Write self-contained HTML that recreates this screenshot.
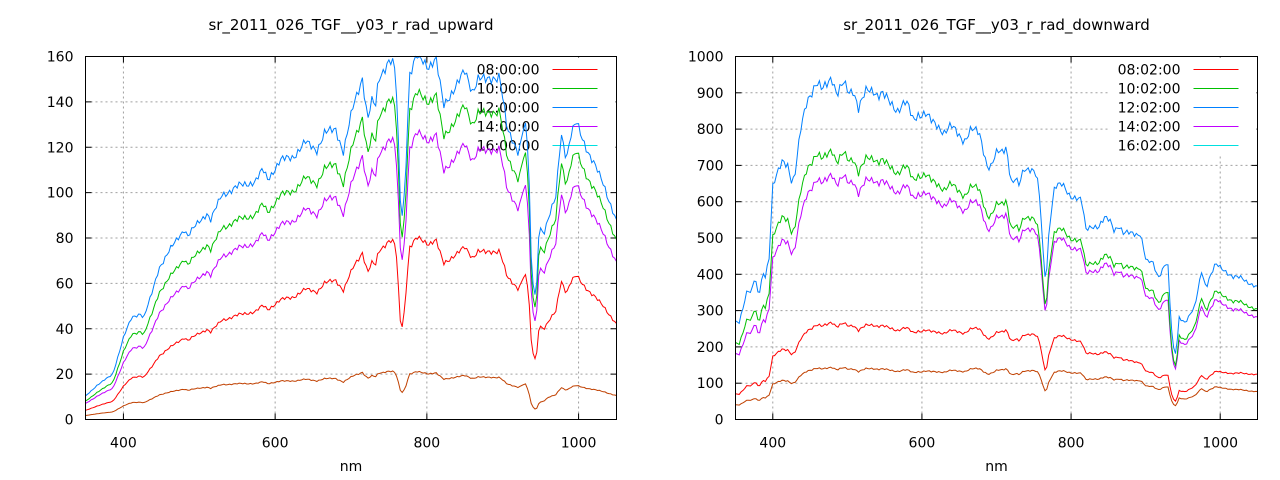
<!DOCTYPE html>
<html><head><meta charset="utf-8"><style>
html,body{margin:0;padding:0;background:#fff;}
svg{display:block;font-family:"DejaVu Sans","Liberation Sans",sans-serif;}
</style></head><body>
<svg id="s" width="1280" height="480" xmlns="http://www.w3.org/2000/svg"></svg>
<script>
const S=document.getElementById('s');let h='';
function interp(t,x){if(x<=t[0][0])return t[0][1];for(let i=1;i<t.length;i++){if(x<=t[i][0]){const a=t[i-1],b=t[i];return a[1]+(b[1]-a[1])*(x-a[0])/(b[0]-a[0]);}}return t[t.length-1][1];}
const LB=[[350,10.3],[365,15],[386,20],[400,36],[411,45],[424,47],[426,44],[437,55],[447,67],[462,75],[480,84],[485,81],[497,86],[510,91],[515,88],[530,99],[553,103],[574,105],[584,110],[590,106],[607,114],[624,116],[640,122],[655,119],[665,126],[680,128],[690,118],[703,138],[715,151],[722,132],[727,140],[733,138],[736,150],[749,158],[754,158],[759,152],[764,108],[766,86],[771,101],[777,152],[787,160],[802,156],[812,159],[822,138],[832,144],[850,153],[860,145],[868,151],[878,149],[896,152],[906,127],[921,118],[929,132],[934,116],[938,64],[944,52],[948,86],[954,82],[970,98],[977,127],[984,115],[990,125],[997,131],[1015,116],[1033,104],[1052,85]];
const RB=[[350,268],[355,268],[366,360],[371,346],[376,392],[381,337],[387,406],[390,397],[395,447],[400,640],[405,668],[413,714],[420,704],[426,649],[430,677],[438,805],[446,883],[459,925],[466,906],[479,948],[486,893],[495,925],[502,902],[508,911],[515,856],[526,906],[536,908],[541,893],[546,899],[556,874],[567,853],[577,874],[582,860],[588,824],[595,842],[605,842],[613,819],[621,810],[630,792],[639,807],[657,769],[666,798],[677,789],[688,697],[693,697],[701,736],[708,738],[713,755],[718,681],[721,645],[725,663],[730,642],[737,691],[747,693],[754,672],[758,603],[761,521],[764,392],[767,401],[771,539],[778,645],[788,645],[798,617],[808,612],[814,603],[820,521],[829,534],[837,532],[845,553],[852,548],[858,521],[864,537],[870,513],[891,511],[893,516],[901,433],[909,433],[917,392],[927,433],[930,420],[934,264],[938,185],[941,181],[945,282],[953,268],[966,309],[975,410],[981,365],[986,392],[994,427],[1007,410],[1017,392],[1028,390],[1038,378],[1050,363]];
const LR={g:[[350,.78],[400,.83],[800,.9],[1050,.9]],m:[[350,.68],[480,.71],[600,.75],[800,.79],[1050,.79]],r:[[350,.39],[480,.43],[760,.5],[766,.44],[772,.5],[1050,.48]],b:[[350,.17],[480,.16],[800,.13],[930,.12],[944,.08],[960,.11],[1050,.12]]};
const RR={g:[[350,.78],[480,.79],[600,.8],[800,.81],[1050,.83]],m:[[350,.67],[480,.72],[600,.74],[800,.77],[1050,.77]],r:[[350,.26],[480,.285],[600,.29],[800,.36],[940,.28],[1050,.34]],b:[[350,.15],[480,.153],[600,.157],[800,.21],[1050,.21]]};
function plot(o){
 const {x0,x1,y0,y1,ymax,ystep,base,rat,title,labels}=o;
 const X=n=>x0+(n-350)/700*(x1-x0), Y=v=>y1-v/ymax*(y1-y0);
 for(let n=400;n<=1000;n+=200){const x=X(n);h+=`<line x1="${x}" y1="${y0}" x2="${x}" y2="${y1}" stroke="#a0a0a0" stroke-dasharray="2,3"/>`;h+=`<text x="${x}" y="${y1+28}" font-size="14" text-anchor="middle">${n}</text>`;h+=`<line x1="${x}" y1="${y1}" x2="${x}" y2="${y1-6}" stroke="#000"/><line x1="${x}" y1="${y0}" x2="${x}" y2="${y0+6}" stroke="#000"/>`;}
 for(let v=0;v<=ymax;v+=ystep){const y=Y(v);if(v>0&&v<ymax)h+=`<line x1="${x0}" y1="${y}" x2="${x1}" y2="${y}" stroke="#a0a0a0" stroke-dasharray="2,3"/>`;h+=`<text x="${x0-12}" y="${y+5}" font-size="14" text-anchor="end">${v}</text>`;h+=`<line x1="${x0}" y1="${y}" x2="${x0+6}" y2="${y}" stroke="#000"/><line x1="${x1}" y1="${y}" x2="${x1-6}" y2="${y}" stroke="#000"/>`;}
 h+=`<rect x="${x1-150}" y="${y0+1}" width="149" height="96" fill="#fff"/>`;
 const cols=['#ff0000','#00c000','#0080ff','#c000ff','#00e0e0'];
 labels.forEach((l,i)=>{const y=y0+13+i*19;h+=`<text x="${x1-77}" y="${y+5}" font-size="14" text-anchor="end" fill="#000">${l}</text><line x1="${x1-64}" y1="${y}" x2="${x1-19}" y2="${y}" stroke="${cols[i]}" stroke-width="1"/>`;});
 const ser=[['b','#c04000'],['r','#ff0000'],['m','#c000ff'],['g','#00c000'],[null,'#0080ff']];
 ser.forEach(([k,c])=>{let p=[];for(let n=350;n<=1050;n+=2.5){let v=interp(base,n);v*=1+0.012*Math.sin(n*0.9)+0.008*Math.sin(n*2.3);if(k)v*=interp(rat[k],n);v=Math.min(v,ymax);p.push(X(n).toFixed(1)+','+Y(v).toFixed(1));}h+=`<polyline points="${p.join(' ')}" fill="none" stroke="${c}" stroke-width="1"/>`;});
 h+=`<rect x="${x0}" y="${y0}" width="${x1-x0}" height="${y1-y0}" fill="none" stroke="#000"/>`;
 h+=`<text x="${(x0+x1)/2}" y="30" font-size="15" text-anchor="middle">${title}</text>`;
 h+=`<text x="${(x0+x1)/2}" y="471" font-size="14" text-anchor="middle">nm</text>`;
}
plot({x0:85.5,x1:616.5,y0:56.5,y1:419.5,ymax:160,ystep:20,base:LB,rat:LR,title:'sr_2011_026_TGF__y03_r_rad_upward',labels:['08:00:00','10:00:00','12:00:00','14:00:00','16:00:00']});
plot({x0:735.5,x1:1257.5,y0:56.5,y1:419.5,ymax:1000,ystep:100,base:RB,rat:RR,title:'sr_2011_026_TGF__y03_r_rad_downward',labels:['08:02:00','10:02:00','12:02:00','14:02:00','16:02:00']});
S.innerHTML=h;
</script>
</body></html>
